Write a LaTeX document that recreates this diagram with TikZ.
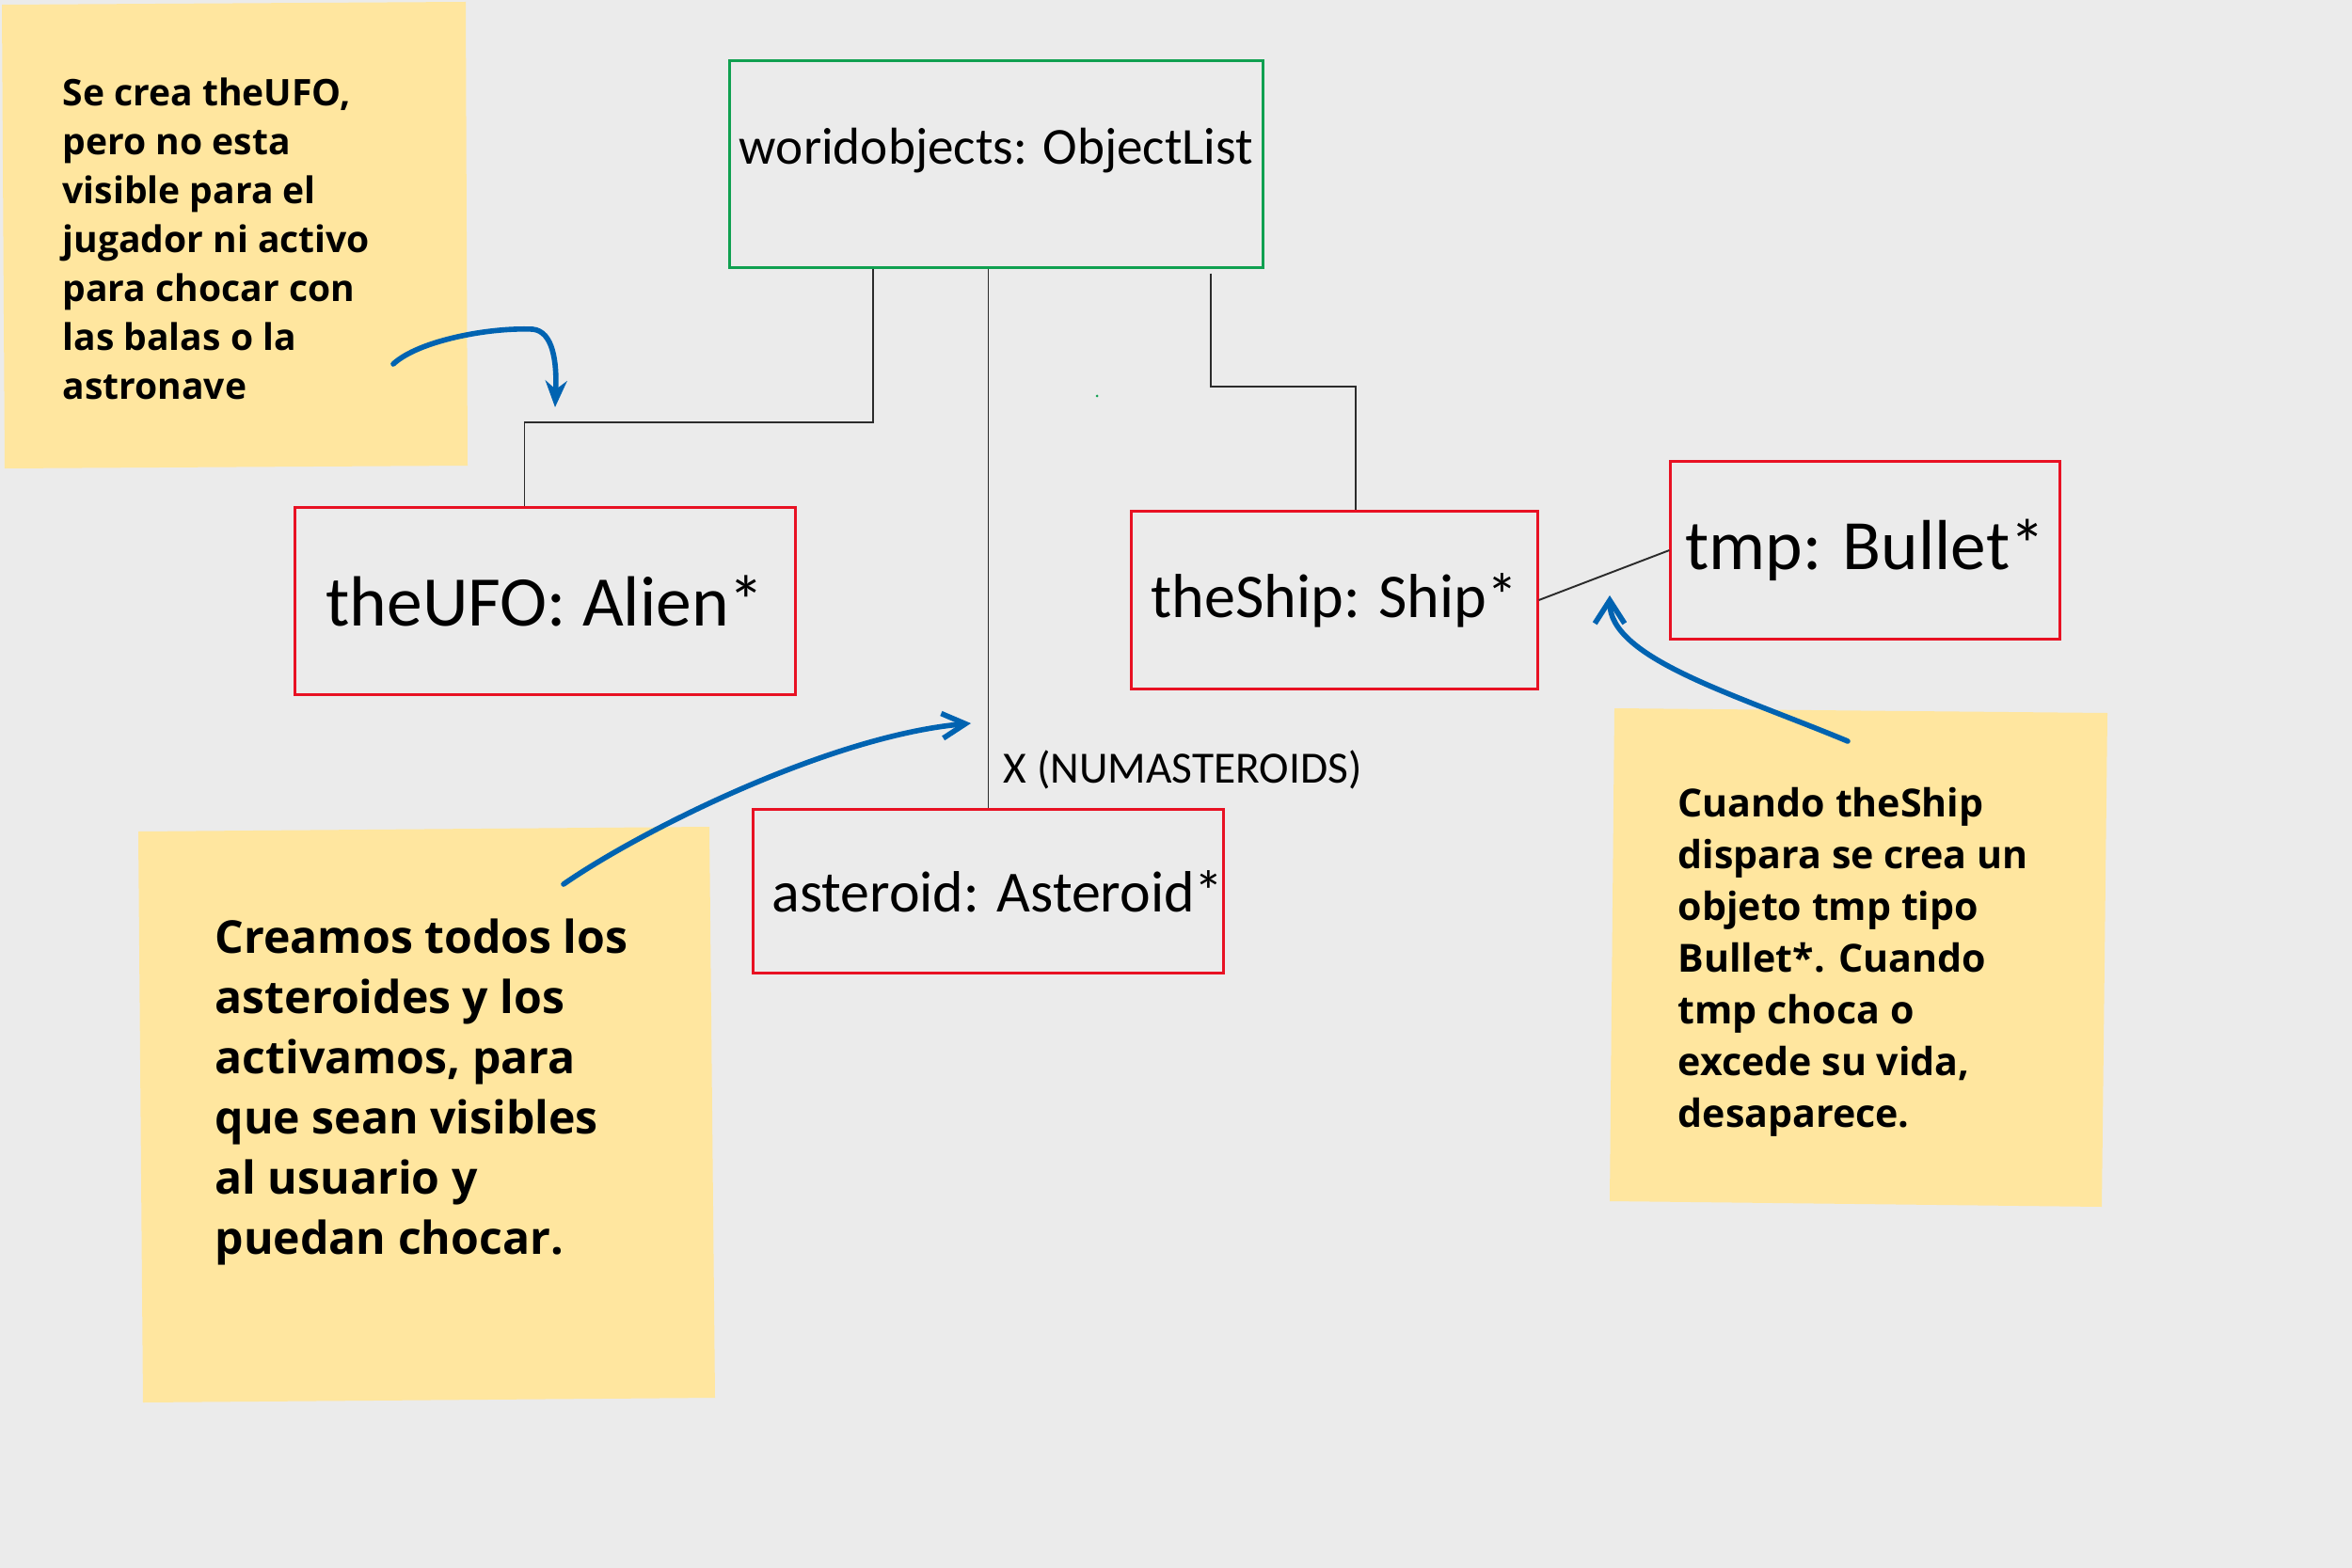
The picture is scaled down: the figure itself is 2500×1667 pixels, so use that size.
\documentclass[tikz,border=0pt]{standalone}
\usepackage{fontspec}
\setmainfont{Open Sans}
\newfontfamily\hand{Carlito}
\usetikzlibrary{arrows.meta}
\definecolor{bg}{HTML}{EBEBEB}
\definecolor{nt}{HTML}{FFE69F}
\definecolor{re}{HTML}{E81123}
\definecolor{gr}{HTML}{10A050}
\definecolor{bl}{HTML}{0063B1}
\definecolor{ln}{HTML}{2B2B2B}

\begin{document}
\begin{tikzpicture}[x=0.01cm, y=-0.01cm,
  obj/.style={draw=re, line width=0.85pt, inner sep=0pt},
  note/.style={anchor=north west, align=left, inner sep=0pt},
  link/.style={draw=ln, line width=0.55pt},
  ink/.style={draw=bl, line width=1.6pt, line cap=round}]
  \useasboundingbox (0,0) rectangle (2500,1667);
  \fill[bg] (0,0) rectangle (2500,1667);

  % notas
  \fill[nt] (2,5) -- (495,2) -- (497,495) -- (5,498) -- cycle;
  \fill[nt] (147,884) -- (754,879) -- (760,1486) -- (152,1491) -- cycle;
  \fill[nt] (1716,753) -- (2240,758) -- (2234,1283) -- (1711,1277) -- cycle;

  \node[note, font=\fontsize{11.1}{14.8}\selectfont\bfseries] (n1) at (66,82)
    {Se crea theUFO,\\pero no esta\\visible para el\\jugador ni activo\\para chocar con\\las balas o la\\astronave};
  \node[note, font=\fontsize{13.7}{18.2}\selectfont\bfseries] (n2) at (228,976)
    {Creamos todos los\\asteroides y los\\activamos, para\\que sean visibles\\al usuario y\\puedan chocar.};
  \node[note, font=\fontsize{11.7}{15.6}\selectfont\bfseries] (n3) at (1783,837)
    {Cuando theShip\\dispara se crea un\\objeto tmp tipo\\Bullet*. Cuando\\tmp choca o\\excede su vida,\\desaparece.};

  % objetos
  \node[obj, draw=gr, minimum width=5.66cm, minimum height=2.19cm, text depth=0.38cm,
    font=\hand\fontsize{15.7}{18}\selectfont] (wo) at (1059,174.5) {woridobjects: ObjectList};
  \node[obj, minimum width=5.31cm, minimum height=1.98cm,
    font=\hand\fontsize{21.5}{24}\selectfont] (ufo) at (579.5,639) {theUFO: Alien*};
  \node[obj, minimum width=4.31cm, minimum height=1.88cm,
    font=\hand\fontsize{18.8}{22}\selectfont] (ship) at (1418.5,638) {theShip: Ship*};
  \node[obj, minimum width=4.13cm, minimum height=1.88cm,
    font=\hand\fontsize{21.4}{24}\selectfont] (bullet) at (1982.5,585) {tmp: Bullet*};
  \node[obj, minimum width=4.97cm, minimum height=1.73cm,
    font=\hand\fontsize{17.6}{20}\selectfont] (ast) at (1050.5,947.5) {\hspace{0.2cm}asteroid: Asteroid*};
  \node[anchor=west, inner sep=0pt, font=\hand\fontsize{13.5}{16}\selectfont] (mult) at (1066,818) {X (NUMASTEROIDS)};

  % enlaces
  \draw[link] ([xshift=-1.31cm]wo.south) -- ++(0,163) -| ([xshift=-0.22cm]ufo.north);
  \draw[link] (ast.north) -- (ast.north |- wo.south);
  \draw[link] ([xshift=2.28cm, yshift=-0.05cm]wo.south) -- ++(0,120) -| ([xshift=0.22cm]ship.north);
  \draw[link] (ship.east) -- (bullet.west);
  \fill[gr] (1166,421) circle (1.5);

  % flechas
  \coordinate (a1s) at (418,387);
  \coordinate (a1e) at (590,433);
  \coordinate (a2s) at (599,940);
  \coordinate (a2e) at (1032,769);
  \coordinate (a3s) at (1964,788);
  \coordinate (a3e) at (1711,633);
  \draw[ink, -{Stealth[length=8pt, width=6.5pt]}] (a1s) .. controls (445,362) and (520,348) .. (566,350)
    .. controls (588,352) and (592,385) .. (a1e);
  \draw[ink, -{Straight Barb[length=7pt, width=7.5pt]}] (a2s) .. controls (681,883) and (883,782) .. (a2e);
  \draw[ink, -{Straight Barb[length=7pt, width=9pt]}] (a3s) .. controls (1844,738) and (1711,700) .. (a3e);
\end{tikzpicture}
\end{document}
